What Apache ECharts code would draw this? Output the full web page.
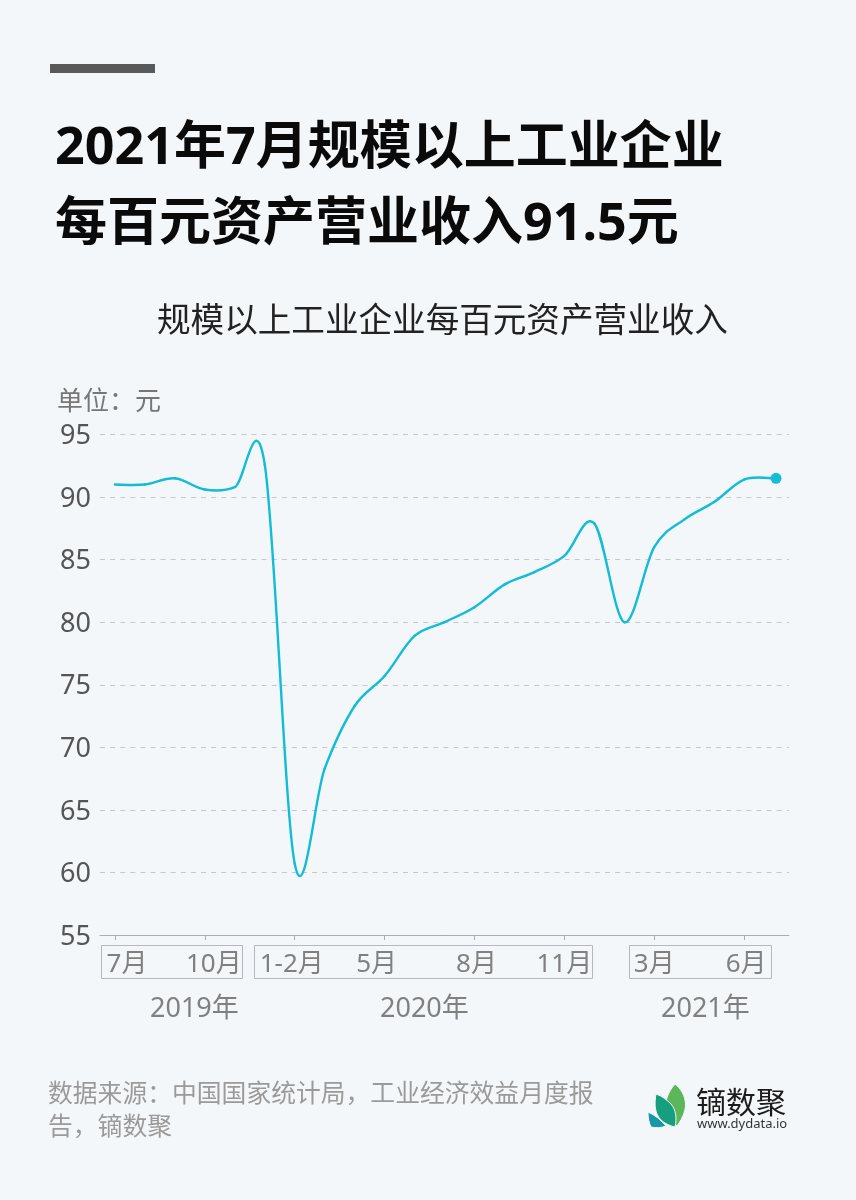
<!DOCTYPE html>
<html>
<head>
<meta charset="utf-8">
<style>html,body{margin:0;padding:0;background:#f4f7fa}#chart{width:856px;height:1200px}</style>
<script src="https://cdn.jsdelivr.net/npm/echarts@6/dist/echarts.min.js"></script>
</head>
<body>
<div id="chart"></div>
<script>
var FONT = '"Noto Sans","Noto Sans CJK SC",sans-serif'
// 月份（2019年7月 - 2021年7月）
var months = ['7月','8月','9月','10月','11月','12月','1-2月','3月','4月','5月','6月','7月','8月','9月','10月','11月','12月','1-2月','3月','4月','5月','6月','7月']
var values = [91.0,91.0,91.5,90.6,90.8,92.6,60.7,68.3,73.3,75.7,78.9,80.0,81.2,83.0,84.0,85.3,87.9,80.0,86.0,88.2,89.6,91.4,91.5]
var yTicks = {min: 55, max: 95, step: 5}
// 标签相对刻度的偏移，按左右 padding 写
var labelPad = {0: [0,0,0,24], 3: [0,0,0,18], 6: [0,6,0,0], 9: [0,16,0,0], 12: [0,0,0,4], 21: [0,0,0,4]}
// logo 叶片
var leaves = [
  ['M675 1084 C668 1092 664 1102 667 1110 C669 1117 673 1122 677 1126 C683 1118 687 1108 685 1100 C684 1094 680 1088 675 1084 Z', '#5cb65a'],
  ['M656 1094 C654 1105 655 1114 661 1120 C664 1123 670 1126 675 1127 C677 1118 676 1110 671 1104 C667 1100 662 1096 656 1094 Z', '#169f7f'],
  ['M648 1112 C648 1118 649 1123 651 1127 C656 1128 661 1128 666 1126 C661 1120 655 1115 648 1112 Z', '#1897a8']
]

var LINE = '#13bcd6'
var BG = '#f4f7fa'
var myChart = echarts.init(document.getElementById('chart'), null, {renderer: 'canvas'})

function catData() {
  return months.map(function (m, i) {
    return labelPad[i] ? {value: i + ':' + m, textStyle: {padding: labelPad[i]}} : {value: i + ':' + m}
  })
}

// 每段一条三次贝塞尔，控制点取前后相邻点（折线库自带 smooth 会压平峰值）
function renderSeg(params, api) {
  var i = api.value(0)
  if (i >= values.length - 1) return
  var pt = function (k) {
    k = Math.max(0, Math.min(values.length - 1, k))
    return api.coord([k, values[k]])
  }
  var p0 = pt(i - 1), p1 = pt(i), p2 = pt(i + 1), p3 = pt(i + 2)
  return {
    type: 'bezierCurve',
    shape: {
      x1: p1[0], y1: p1[1], x2: p2[0], y2: p2[1],
      cpx1: p1[0] + (p2[0] - p0[0]) / 6, cpy1: p1[1] + (p2[1] - p0[1]) / 6,
      cpx2: p2[0] - (p3[0] - p1[0]) / 6, cpy2: p2[1] - (p3[1] - p1[1]) / 6
    },
    style: {fill: null, stroke: LINE, lineWidth: 2.4, lineCap: 'round'}
  }
}

function renderLogo() {
  return {
    type: 'group',
    children: leaves.map(function (l) {
      return {type: 'path', shape: {pathData: l[0]}, style: {fill: l[1], stroke: BG, lineWidth: 1}}
    })
  }
}

var option = {
  backgroundColor: BG,
  animation: false,
  textStyle: {fontFamily: FONT},
  title: [
    {text: '2021年7月规模以上工业企业', left: 55, top: 123, padding: 0, textStyle: {fontSize: 52, fontWeight: 'bold', color: '#0a0a0a', fontFamily: FONT}},
    {text: '每百元资产营业收入91.5元', left: 55, top: 199, padding: 0, textStyle: {fontSize: 52, fontWeight: 'bold', color: '#0a0a0a', fontFamily: FONT}},
    {text: '规模以上工业企业每百元资产营业收入', left: 157, top: 306, padding: 0, textStyle: {fontSize: 33.6, fontWeight: 'normal', color: '#222', fontFamily: FONT}}
  ],
  grid: {left: 100, right: 67, top: 434.5, bottom: 265, containLabel: false},
  xAxis: {
    type: 'category',
    data: catData(),
    boundaryGap: true,
    axisLine: {lineStyle: {color: '#a9adb1', width: 1}},
    axisTick: {show: true, alignWithLabel: true, interval: 2, length: 5, lineStyle: {color: '#a9adb1', width: 1}},
    axisLabel: {
      interval: 2, margin: 17, fontSize: 26, color: '#808080', fontFamily: FONT, hideOverlap: false,
      formatter: function (v) { return v.split(':')[1] }
    }
  },
  yAxis: {
    type: 'value',
    min: yTicks.min, max: yTicks.max, interval: yTicks.step,
    axisLine: {show: false},
    axisTick: {show: false},
    axisLabel: {
      margin: 9,
      formatter: '{a|{value}}',
      rich: {a: {fontSize: 27, color: '#555', fontFamily: FONT, padding: [4, 0, 0, 0]}}
    },
    splitLine: {lineStyle: {type: [5, 5.1], color: '#c6c8ca', width: 1}}
  },
  series: [
    {
      type: 'custom',
      coordinateSystem: 'cartesian2d',
      renderItem: renderSeg,
      encode: {x: 0, y: 1},
      data: values.map(function (v, i) { return [i, v] }),
      silent: true,
      z: 3
    },
    {
      type: 'scatter',
      symbol: 'circle',
      symbolSize: 11,
      symbolOffset: [2, 0],
      itemStyle: {color: '#16bcd4', opacity: 1},
      data: [[months.length - 1, values[values.length - 1]]],
      silent: true,
      z: 4
    },
    {type: 'custom', coordinateSystem: 'none', renderItem: renderLogo, data: [0], silent: true}
  ],
  graphic: [
    {type: 'rect', shape: {x: 50, y: 64, width: 105, height: 9}, style: {fill: '#58595b'}},
    {type: 'text', style: {text: '单位：元', x: 57, y: 390, font: '26px ' + FONT, fill: '#777'}},
    // 月份分组框
    {type: 'rect', shape: {x: 101.5, y: 945.5, width: 141, height: 33}, style: {fill: 'none', stroke: '#b5b9bd', lineWidth: 1}},
    {type: 'rect', shape: {x: 254.5, y: 945.5, width: 338, height: 33}, style: {fill: 'none', stroke: '#b5b9bd', lineWidth: 1}},
    {type: 'rect', shape: {x: 629.5, y: 945.5, width: 142, height: 33}, style: {fill: 'none', stroke: '#b5b9bd', lineWidth: 1}},
    {type: 'text', style: {text: '2019年', x: 150, y: 996, font: '27px ' + FONT, fill: '#808080'}},
    {type: 'text', style: {text: '2020年', x: 380, y: 996, font: '27px ' + FONT, fill: '#808080'}},
    {type: 'text', style: {text: '2021年', x: 661, y: 996, font: '27px ' + FONT, fill: '#808080'}},
    // 来源
    {type: 'text', style: {text: '数据来源：中国国家统计局，工业经济效益月度报', x: 48, y: 1083, font: '24.8px ' + FONT, fill: '#9a9a9a'}},
    {type: 'text', style: {text: '告，镝数聚', x: 48, y: 1116, font: '24.8px ' + FONT, fill: '#9a9a9a'}},
    {type: 'text', style: {text: '镝数聚', x: 696, y: 1089, font: '30px ' + FONT, fill: '#1c1c1c'}},
    {type: 'text', style: {text: 'www.dydata.io', x: 697, y: 1118, font: '13px "Noto Sans",sans-serif', fill: '#333'}}
  ]
}
myChart.setOption(option)
window.onresize = function () {
  myChart.resize()
}
</script>
</body>
</html>
